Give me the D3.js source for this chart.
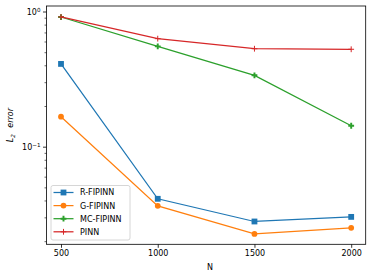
<!DOCTYPE html>
<html>
<head>
<meta charset="utf-8">
<script src="https://cdn.jsdelivr.net/npm/d3@7"></script>
<style>
  body { margin: 0; background: #fff; }
  svg { display: block; font-family: "DejaVu Sans", sans-serif; }
</style>
</head>
<body>
<div id="chart"></div>
<script>

// data
const nValues = [500, 1000, 1500, 2000]
const xTicks = [500, 1000, 1500, 2000]
const seriesNames = ["R-FIPINN", "G-FIPINN", "MC-FIPINN", "PINN"]
const seriesColours = ["#1f77b4", "#ff7f0e", "#2ca02c", "#d62728"]
const seriesMarkers = ["square", "circle", "plusFilled", "plus"]
const rFipinn = [0.413, 0.0415, 0.0282, 0.0305]
const gFipinn = [0.168, 0.0368, 0.0228, 0.0253]
const mcFipinn = [0.918, 0.557, 0.340, 0.144]
const pinn = [0.92, 0.635, 0.535, 0.530]

const seriesValues = [rFipinn, gFipinn, mcFipinn, pinn]

const width = 373, height = 279
const margin = { top: 6, right: 7.3, bottom: 34.7, left: 46.5 }

const svg = d3.select("#chart").append("svg")
    .attr("width", width)
    .attr("height", height)

const x = d3.scaleLinear()
    .domain([425, 2075])
    .range([margin.left, width - margin.right])

const y = d3.scaleLog()
    .domain([Math.pow(10, -1.7185), Math.pow(10, 0.0444)])
    .range([height - margin.bottom, margin.top])

// axes
const xAxis = d3.axisBottom(x).tickValues(xTicks).tickSize(3.5).tickPadding(3).tickFormat(d3.format("d"))

const gx = svg.append("g")
    .attr("transform", `translate(0,${height - margin.bottom})`)
    .call(xAxis)
gx.select(".domain").remove()
gx.selectAll("text").attr("font-size", 8).attr("fill", "#000").attr("font-family", "DejaVu Sans")
gx.selectAll("line").attr("stroke", "#000").attr("stroke-width", 0.8)

// log y: major ticks at decades, minor ticks between
const majors = [0.1, 1]
const minors = [2, 3, 4, 5, 6, 7, 8, 9].map(d => d / 100).concat([2, 3, 4, 5, 6, 7, 8, 9].map(d => d / 10))
    .filter(d => d >= y.domain()[0] && d <= y.domain()[1])

const gy = svg.append("g")
    .attr("transform", `translate(${margin.left},0)`)

gy.selectAll(".minor").data(minors).join("line")
    .attr("x1", -2).attr("x2", 0)
    .attr("y1", d => y(d)).attr("y2", d => y(d))
    .attr("stroke", "#000").attr("stroke-width", 0.6)

gy.selectAll(".major").data(majors).join("line")
    .attr("x1", -3.5).attr("x2", 0)
    .attr("y1", d => y(d)).attr("y2", d => y(d))
    .attr("stroke", "#000").attr("stroke-width", 0.8)

const majorLabels = gy.selectAll(".mlabel").data(majors).join("text")
    .attr("x", -6)
    .attr("y", d => y(d) + 3)
    .attr("text-anchor", "end")
    .attr("font-size", 8)
majorLabels.append("tspan").text("10")
majorLabels.append("tspan")
    .attr("dy", -3.5)
    .attr("font-size", 5.6)
    .text(d => d === 1 ? "0" : "\u22121")

// frame
svg.append("rect")
    .attr("x", margin.left).attr("y", margin.top)
    .attr("width", width - margin.left - margin.right)
    .attr("height", height - margin.top - margin.bottom)
    .attr("fill", "none").attr("stroke", "#000").attr("stroke-width", 0.8)

// labels
svg.append("text")
    .attr("x", x(1250) + 4)
    .attr("y", 270)
    .attr("text-anchor", "middle")
    .attr("font-size", 8)
    .text("N")

const yl = svg.append("text")
    .attr("transform", `translate(13,${(margin.top + height - margin.bottom) / 2}) rotate(-90)`)
    .attr("text-anchor", "middle")
    .attr("font-size", 8)
    .attr("font-style", "italic")
yl.append("tspan").text("L")
yl.append("tspan").attr("dy", 2).attr("font-size", 5.6).text("2")
yl.append("tspan").attr("dy", -2).text("\u2002 error")

// markers
function drawMarker(g, type, colour, cx, cy, s) {
    if (type === "square") {
        g.append("rect").attr("x", cx - s / 2).attr("y", cy - s / 2).attr("width", s).attr("height", s).attr("fill", colour)
    } else if (type === "circle") {
        g.append("circle").attr("cx", cx).attr("cy", cy).attr("r", s / 2).attr("fill", colour)
    } else if (type === "plusFilled") {
        const a = s / 2, b = s / 6
        const pts = [[-b,-a],[b,-a],[b,-b],[a,-b],[a,b],[b,b],[b,a],[-b,a],[-b,b],[-a,b],[-a,-b],[-b,-b]]
        g.append("path").attr("d", d3.line()(pts.map(p => [cx + p[0], cy + p[1]])) + "Z").attr("fill", colour)
    } else {
        const a = s / 2
        g.append("path").attr("d", `M${cx - a},${cy}H${cx + a}M${cx},${cy - a}V${cy + a}`)
            .attr("stroke", colour).attr("stroke-width", 1).attr("fill", "none")
    }
}

const line = d3.line().x((d, i) => x(nValues[i])).y(d => y(d))

seriesValues.forEach(function(vals, k) {
    const g = svg.append("g")
    g.append("path")
        .attr("d", line(vals))
        .attr("fill", "none")
        .attr("stroke", seriesColours[k])
        .attr("stroke-width", 1.25)
    vals.forEach(function(v, i) {
        drawMarker(g, seriesMarkers[k], seriesColours[k], x(nValues[i]), y(v), 5.8)
    })
})

// legend
const lg = svg.append("g").attr("transform", "translate(51,185.5)")
lg.append("rect")
    .attr("width", 79).attr("height", 54.5).attr("rx", 2)
    .attr("fill", "#fff").attr("fill-opacity", 0.8)
    .attr("stroke", "#ccc").attr("stroke-width", 0.8)

seriesNames.forEach(function(name, k) {
    const yy = 7 + k * 13.1
    lg.append("line")
        .attr("x1", 2.5).attr("x2", 22.5)
        .attr("y1", yy).attr("y2", yy)
        .attr("stroke", seriesColours[k]).attr("stroke-width", 1.25)
    drawMarker(lg, seriesMarkers[k], seriesColours[k], 12.5, yy, 5.8)
    lg.append("text")
        .attr("x", 29).attr("y", yy + 2.9)
        .attr("font-size", 8)
        .text(name)
})

</script>
</body>
</html>
